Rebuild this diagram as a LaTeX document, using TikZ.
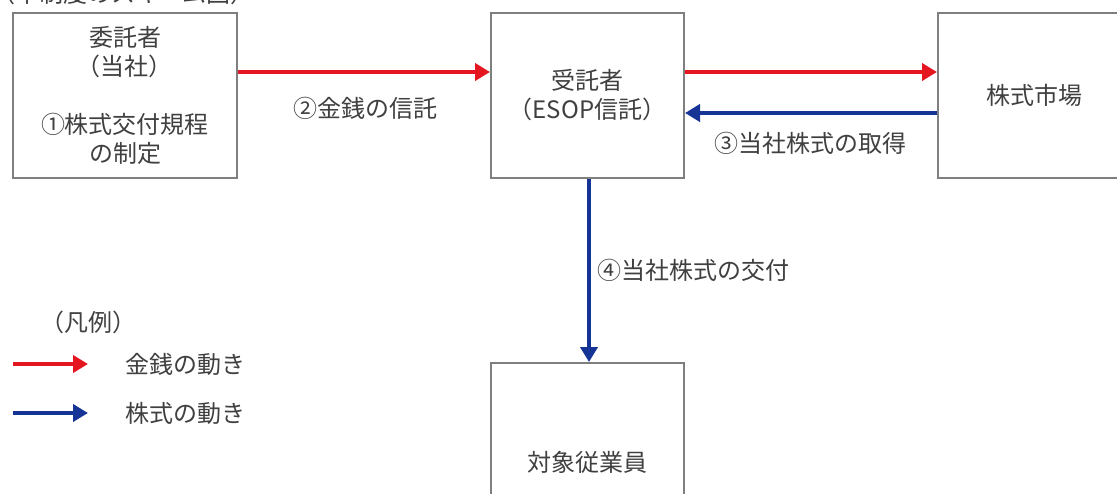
\documentclass[tikz,border=0pt]{standalone}
\usepackage{fontspec}
\setmainfont{Noto Sans CJK JP}
\usetikzlibrary{arrows.meta}
\definecolor{txt}{HTML}{404040}
\definecolor{boxline}{HTML}{7F7F7F}
\definecolor{mred}{RGB}{228,22,32}
\definecolor{sblue}{RGB}{22,52,150}
\tikzset{
  box/.style={draw=boxline, line width=2pt, fill=white, inner sep=0pt, text=txt, align=center,
    font=\fontsize{24}{29}\selectfont},
  lbl/.style={text=txt, inner sep=0pt, font=\fontsize{24}{29}\selectfont},
  redarrow/.style={draw=mred, line width=4pt, -{Triangle[length=15pt,width=17pt]}},
  bluearrow/.style={draw=sblue, line width=4pt, -{Triangle[length=15pt,width=17pt]}},
}
\begin{document}
\begin{tikzpicture}[x=1pt,y=-1pt]
\useasboundingbox (0,0) rectangle (1117,493);
\clip (0,0) rectangle (1117,493);
\fill[white] (0,0) rectangle (1117,493);
% cut-off title
\node[lbl, anchor=base west] (title) at (-9,2) {（本制度のスキーム図）};
% boxes
\node[box, minimum width=224pt, minimum height=165pt] (b1) at (125,95.5)
  {委託者\\（当社）\\[29pt]①株式交付規程\\の制定};
\node[box, minimum width=193pt, minimum height=165pt] (b2) at (587.5,95.5)
  {受託者\\（ESOP信託）};
\node[box, minimum width=193pt, minimum height=165pt] (b3) at (1034.5,95.5)
  {株式市場};
\node[box, minimum width=193pt, minimum height=198pt] (b4) at (587.5,462)
  {対象従業員};
% connectors
\draw[redarrow] ([yshift=23.5pt]b1.east) -- ([yshift=23.5pt]b2.west);
\draw[redarrow] ([yshift=23.5pt]b2.east) -- ([yshift=23.5pt]b3.west);
\draw[bluearrow] ([yshift=-17.5pt]b3.west) -- ([yshift=-17.5pt]b2.east);
\draw[bluearrow] ([xshift=1.5pt]b2.south) -- ([xshift=1.5pt]b4.north);
% labels
\node[lbl] (l2) at (365,108) {②金銭の信託};
\node[lbl] (l3) at (810,143) {③当社株式の取得};
\node[lbl, anchor=west] (l4) at (597,270) {④当社株式の交付};
% legend
\node[lbl] (leg) at (88,322) {（凡例）};
\coordinate (r1) at (13,364);
\coordinate (r2) at (88,364);
\coordinate (s1) at (13,413);
\coordinate (s2) at (88,413);
\draw[redarrow] (r1) -- (r2);
\draw[bluearrow] (s1) -- (s2);
\node[lbl] (legm) at (185,364) {金銭の動き};
\node[lbl] (legs) at (185,413) {株式の動き};
\end{tikzpicture}
\end{document}
